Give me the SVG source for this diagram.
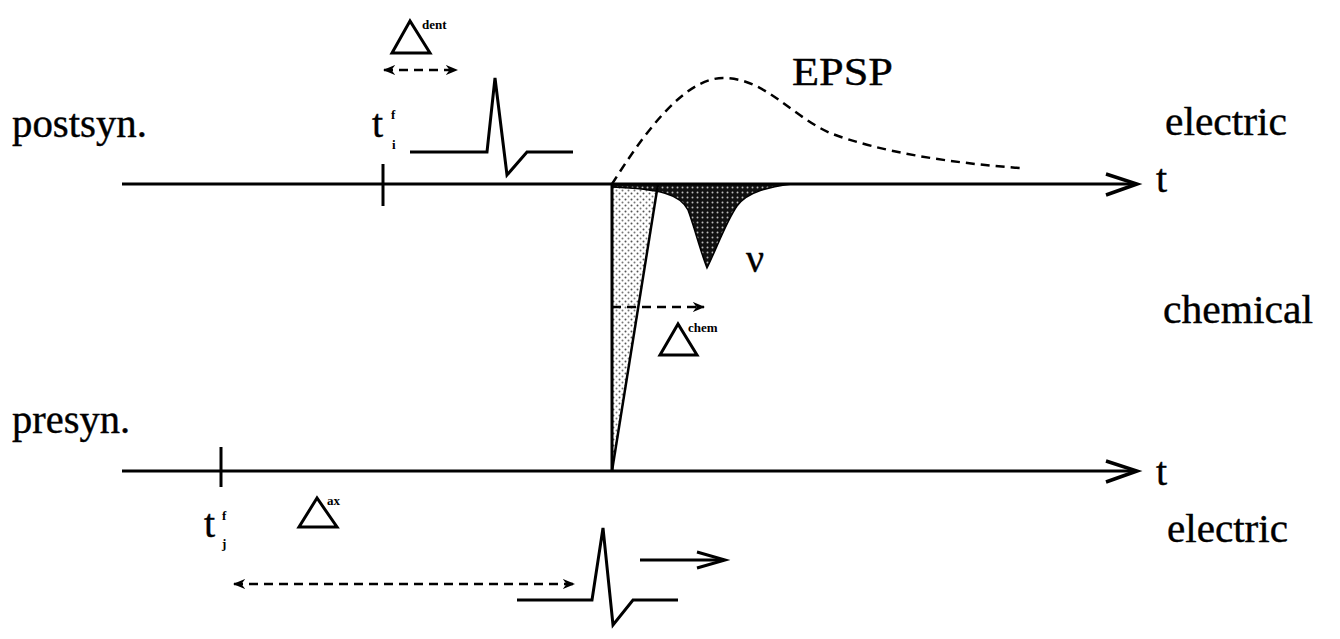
<svg xmlns="http://www.w3.org/2000/svg" width="1340" height="639" viewBox="0 0 1340 639">
<style>
text{font-family:'Liberation Serif','Times New Roman',Times,'DejaVu Serif',serif}
.lbl{font-size:40px;fill:#000;stroke:#000;stroke-width:0.4}
.sm{font-size:13px;font-weight:bold;fill:#000}
.ax{stroke:#000;stroke-width:3;fill:none}
.ln{stroke:#000;stroke-width:3;fill:none;stroke-linejoin:miter}
.dash{stroke:#000;stroke-width:2.5;fill:none;stroke-dasharray:9 6}
.tri{stroke:#000;stroke-width:3;fill:none;stroke-linejoin:miter}
</style>
<defs>
<pattern id="lightdots" width="6" height="6" patternUnits="userSpaceOnUse">
<rect width="6" height="6" fill="#fff"/>
<circle cx="1.5" cy="1.5" r="1" fill="#555"/>
<circle cx="4.5" cy="4.5" r="1" fill="#777"/>
</pattern>
<pattern id="darkdots" width="5" height="5" patternUnits="userSpaceOnUse">
<rect width="5" height="5" fill="#111"/>
<circle cx="2.5" cy="2.5" r="1" fill="#bbb"/>
</pattern>
<marker id="ah" viewBox="0 0 10 10" refX="9" refY="5" markerWidth="5" markerHeight="5" orient="auto-start-reverse" markerUnits="strokeWidth">
<path d="M0,1 L10,5 L0,9 L3,5 Z" fill="#000"/>
</marker>
</defs>

<g id="shading">
<path d="M612,184 L658,184 L612,471 Z" fill="url(#lightdots)"/>
<path d="M612,184 L792,184 C770,187 748,191 737,206 C726,222 716,250 707,268 C700,250 694,226 688,210 C680,194 660,189 612,187 Z" fill="url(#darkdots)" stroke="#000" stroke-width="1.5"/>
<line x1="612" y1="184" x2="612" y2="471" class="ln"/>
<line x1="658" y1="184" x2="612" y2="471" stroke="#000" stroke-width="2.5"/>
</g>

<g id="connectors">
<g id="axis-post">
<line x1="122" y1="184" x2="1135" y2="184" class="ax"/>
<path d="M1106,174 L1137,184 L1106,195" fill="none" stroke="#000" stroke-width="3.5" stroke-linejoin="miter"/>
<line x1="383" y1="164" x2="383" y2="206" class="ln"/>
</g>
<g id="axis-pre">
<line x1="122" y1="471" x2="1135" y2="471" class="ax"/>
<path d="M1106,461 L1137,471 L1106,482" fill="none" stroke="#000" stroke-width="3.5" stroke-linejoin="miter"/>
<line x1="221" y1="447" x2="221" y2="487" class="ln"/>
</g>
<path id="epsp-curve" d="M612,184 C640,140 682,78 723,78 C765,78 790,115 830,133 C880,152 950,163 1020,168" class="dash"/>
<line id="dent-arrow" x1="384" y1="70" x2="457" y2="70" class="dash" marker-start="url(#ah)" marker-end="url(#ah)"/>
<line id="chem-arrow" x1="612" y1="307" x2="704" y2="307" class="dash" marker-end="url(#ah)"/>
<line id="ax-arrow" x1="234" y1="584" x2="574" y2="584" class="dash" marker-start="url(#ah)" marker-end="url(#ah)"/>
<g id="move-arrow">
<line x1="640" y1="560" x2="724" y2="560" stroke="#000" stroke-width="3"/>
<path d="M697,552 L725,560 L697,568" fill="none" stroke="#000" stroke-width="3"/>
</g>
</g>

<g id="spike-post">
<path d="M410,152 L487,152 L495,78 L507,175 L527,152 L573,152" class="ln"/>
</g>
<g id="spike-pre">
<path d="M517,600 L592,600 L603,528 L613,625 L633,600 L678,600" class="ln"/>
</g>

<g id="delta-dent">
<path d="M410,21 L392,53 L430,53 Z" class="tri"/>
<text x="422" y="29" class="sm">dent</text>
</g>
<g id="delta-chem">
<path d="M678,324 L660,355 L697,355 Z" class="tri"/>
<text x="688" y="332" class="sm">chem</text>
</g>
<g id="delta-ax">
<path d="M317,498 L299,527 L337,527 Z" class="tri"/>
<text x="327" y="505" class="sm">ax</text>
</g>

<g id="t-i">
<text x="372" y="137" class="lbl">t</text>
<text x="391" y="119" class="sm">f</text>
<text x="392" y="149" class="sm">i</text>
</g>
<g id="t-j">
<text x="204" y="537" class="lbl">t</text>
<text x="222" y="520" class="sm">f</text>
<text x="222" y="548" class="sm">j</text>
</g>

<g id="labels">
<text x="12" y="137" class="lbl" textLength="135" lengthAdjust="spacingAndGlyphs">postsyn.</text>
<text x="12" y="433" class="lbl" textLength="118" lengthAdjust="spacingAndGlyphs">presyn.</text>
<text x="1165" y="135" class="lbl" textLength="122" lengthAdjust="spacingAndGlyphs">electric</text>
<text x="1163" y="323" class="lbl" textLength="150" lengthAdjust="spacingAndGlyphs">chemical</text>
<text x="1167" y="542" class="lbl" textLength="121" lengthAdjust="spacingAndGlyphs">electric</text>
<text x="1156" y="192" class="lbl">t</text>
<text x="1156" y="485" class="lbl">t</text>
<text x="792" y="85" class="lbl" textLength="101" lengthAdjust="spacingAndGlyphs">EPSP</text>
<text x="746" y="272" class="lbl">ν</text>
</g>
</svg>
